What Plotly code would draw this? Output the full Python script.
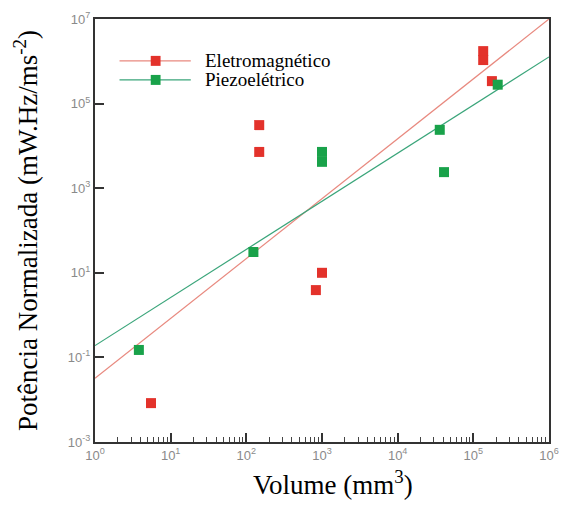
import plotly.graph_objects as go

# Data
em_x = [5.5, 148, 148, 1000, 830, 135000, 135000, 176000]
em_y = [0.0083, 31000, 7200, 10, 3.9, 1.74e6, 1.07e6, 340000]
pz_x = [3.8, 124, 1000, 1000, 36000, 41000, 210000]
pz_y = [0.15, 31, 7200, 4200, 24000, 2400, 280000]

fit_x = [1, 1e6]
em_fit = [0.032, 1e7]
pz_fit = [0.19, 1.27e6]

series_names = ["Eletromagnético", "Piezoelétrico"]

x_tickvals = [1, 10, 100, 1000, 1e4, 1e5, 1e6]
x_ticktext = ["10<sup>0</sup>", "10<sup>1</sup>", "10<sup>2</sup>", "10<sup>3</sup>",
              "10<sup>4</sup>", "10<sup>5</sup>", "10<sup>6</sup>"]
y_tickvals = [1e-3, 1e-1, 10, 1e3, 1e5, 1e7]
y_ticktext = ["10<sup>-3</sup>", "10<sup>-1</sup>", "10<sup>1</sup>", "10<sup>3</sup>",
              "10<sup>5</sup>", "10<sup>7</sup>"]

RED = "#e3322b"
GREEN = "#19a24a"
RED_LINE = "#e8897f"
GREEN_LINE = "#3aa57a"
SERIF = "Liberation Serif, Times New Roman, serif"

fig = go.Figure()
fig.add_trace(go.Scatter(x=fit_x, y=em_fit, mode="lines", line=dict(color=RED_LINE, width=1.2),
                         showlegend=False, hoverinfo="skip"))
fig.add_trace(go.Scatter(x=fit_x, y=pz_fit, mode="lines", line=dict(color=GREEN_LINE, width=1.2),
                         showlegend=False, hoverinfo="skip"))
fig.add_trace(go.Scatter(x=em_x, y=em_y, mode="markers", name=series_names[0],
                         marker=dict(symbol="square", size=10, color=RED), showlegend=False))
fig.add_trace(go.Scatter(x=pz_x, y=pz_y, mode="markers", name=series_names[1],
                         marker=dict(symbol="square", size=10, color=GREEN), showlegend=False))

axis_common = dict(
    showline=True, linecolor="#333333", linewidth=2, mirror=True,
    showgrid=False, zeroline=False,
    ticks="inside", tickcolor="#333333", tickwidth=2, ticklen=9,
    tickfont=dict(family="Liberation Sans, Arial, sans-serif", size=13, color="#8a8a8a"),
)

fig.update_xaxes(type="log", range=[0, 6], tickvals=x_tickvals, ticktext=x_ticktext,
                 minor=dict(ticks="inside", ticklen=5, tickwidth=1, tickcolor="#444444", dtick="D1"),
                 **axis_common)
fig.update_yaxes(type="log", range=[-3, 7], tickvals=y_tickvals, ticktext=y_ticktext,
                 title=dict(text="Potência Normalizada (mW.Hz/ms<sup>-2</sup>)",
                            font=dict(family=SERIF, size=27, color="#000000"),
                            standoff=22),
                 **axis_common)

# Manual legend (long line sample with a centred square, as in the reference)
leg_colors = [(RED_LINE, RED), (GREEN_LINE, GREEN)]
leg_y = [0.901, 0.856]
shapes = []
annotations = []
for name, (lc, mc), yy in zip(series_names, leg_colors, leg_y):
    shapes.append(dict(type="line", xref="paper", yref="paper", x0=0.054, x1=0.211, y0=yy, y1=yy,
                       line=dict(color=lc, width=1.2)))
    shapes.append(dict(type="rect", xref="paper", yref="paper", x0=0.1336 - 0.0108, x1=0.1336 + 0.0108,
                       y0=yy - 0.0118, y1=yy + 0.0118, fillcolor=mc, line=dict(width=0)))
    annotations.append(dict(xref="paper", yref="paper", x=0.238, y=yy, xanchor="left", yanchor="middle",
                            text=name, showarrow=False,
                            font=dict(family=SERIF, size=19, color="#000000")))

# x-axis title (placed slightly right of centre, as in the reference)
annotations.append(dict(xref="paper", yref="paper", x=0.524, y=-0.142, xanchor="center", yanchor="bottom",
                        text="Volume (mm<sup>3</sup>)", showarrow=False,
                        font=dict(family=SERIF, size=27, color="#000000")))

fig.update_layout(
    width=569, height=505,
    margin=dict(l=95, r=10, t=19, b=63),
    paper_bgcolor="white", plot_bgcolor="white",
    showlegend=False,
    shapes=shapes, annotations=annotations,
)

fig.write_html("out.html")
